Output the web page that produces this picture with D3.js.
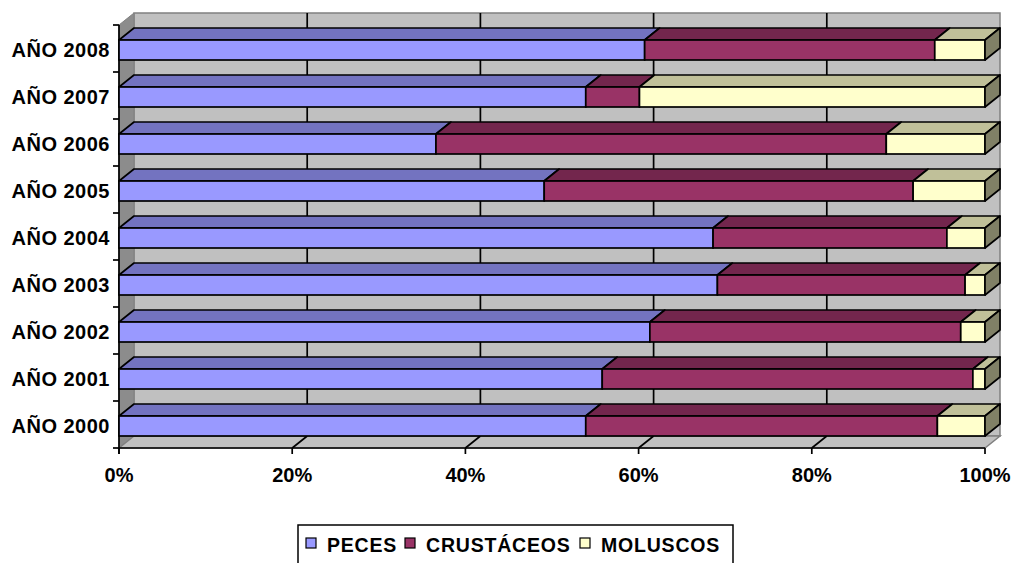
<!DOCTYPE html>
<html><head><meta charset="utf-8">
<script src="https://cdn.jsdelivr.net/npm/d3@7"></script>
<style>
body{margin:0;background:#fff;}
text{font-family:"Liberation Sans",Arial,sans-serif;font-weight:bold;fill:#000;}
</style></head>
<body><svg id="c" width="1015" height="563"></svg>
<script>
const categories = ["AÑO 2008","AÑO 2007","AÑO 2006","AÑO 2005","AÑO 2004","AÑO 2003","AÑO 2002","AÑO 2001","AÑO 2000"];
const peces      = [60.7, 53.9, 36.6, 49.1, 68.6, 69.1, 61.3, 55.8, 53.9];
const crustaceos = [33.5,  6.2, 52.0, 42.6, 27.0, 28.6, 35.9, 42.8, 40.6];
const moluscos   = [ 5.8, 39.9, 11.4,  8.3,  4.4,  2.3,  2.8,  1.4,  5.5];
const seriesNames = ["PECES","CRUSTÁCEOS","MOLUSCOS"];
const xTicks = [0,20,40,60,80,100];

const front = ["#9999ff","#993366","#ffffcc"];
const top_  = ["#7373c0","#73264d","#c0c099"];
const sideC = "#808066";

const svg = d3.select("#c");
const DX = 15, DY = 12;
const x = d3.scaleLinear().domain([0,100]).range([119,985]);
const y = d3.scaleBand().domain(categories).range([25,448]);
const y0 = 25, y1 = 448;

const rows = categories.map((c,i)=>({cat:c, PECES:peces[i], "CRUSTÁCEOS":crustaceos[i], MOLUSCOS:moluscos[i]}));
const stacked = d3.stack().keys(seriesNames)(rows);

const pts = a => a.map(p=>p.join(",")).join(" ");
// back wall
svg.append("polygon").attr("points",pts([[x(0)+DX,y0-DY],[x(100)+DX,y0-DY],[x(100)+DX,y1-DY],[x(0)+DX,y1-DY]]))
  .attr("fill","#c0c0c0").attr("stroke","#808080").attr("stroke-width",1.5);
// left wall
svg.append("polygon").attr("points",pts([[x(0),y0],[x(0)+DX,y0-DY],[x(0)+DX,y1-DY],[x(0),y1]]))
  .attr("fill","#8c8c8c").attr("stroke","#808080").attr("stroke-width",1);
// floor
svg.append("polygon").attr("points",pts([[x(0),y1],[x(100),y1],[x(100)+DX,y1-DY],[x(0)+DX,y1-DY]]))
  .attr("fill","#c0c0c0").attr("stroke","#808080").attr("stroke-width",1.5);
// gridlines
xTicks.filter(t=>t>0&&t<100).forEach(t=>{
  svg.append("line").attr("x1",x(t)+DX).attr("x2",x(t)+DX).attr("y1",y0-DY).attr("y2",y1-DY).attr("stroke","#000").attr("stroke-width",1.7);
  svg.append("line").attr("x1",x(t)).attr("x2",x(t)+DX).attr("y1",y1).attr("y2",y1-DY).attr("stroke","#000").attr("stroke-width",1.7);
});
// category ticks
const bounds = categories.map(c=>y(c)).concat([y1]);
bounds.forEach(b=>{
  svg.append("line").attr("x1",x(0)-6).attr("x2",x(0)).attr("y1",b).attr("y2",b).attr("stroke","#000").attr("stroke-width",1.7);
});
// axes lines
svg.append("line").attr("x1",x(0)).attr("x2",x(0)).attr("y1",y0).attr("y2",y1+6).attr("stroke","#000").attr("stroke-width",1.7);
svg.append("line").attr("x1",x(0)).attr("x2",x(100)).attr("y1",y1).attr("y2",y1).attr("stroke","#000").attr("stroke-width",1.7);
xTicks.forEach(t=>{
  svg.append("line").attr("x1",x(t)).attr("x2",x(t)).attr("y1",y1).attr("y2",y1+6).attr("stroke","#000").attr("stroke-width",1.7);
  svg.append("text").attr("x",x(t)).attr("y",482).attr("text-anchor","middle").attr("font-size",20).text(t+"%");
});
// category labels
categories.forEach(c=>{
  svg.append("text").attr("x",110).attr("y",y(c)+y.bandwidth()/2+8).attr("text-anchor","end")
    .attr("font-size",20).attr("letter-spacing",0.5).text(c);
});
// bars
const FO = 15, FH = 20;
categories.forEach((c,i)=>{
  const g = svg.append("g");
  const ft = y(c)+FO, fb = ft+FH;
  stacked.forEach((s,k)=>{
    const a = x(s[i][0]), b = x(s[i][1]);
    g.append("polygon").attr("points",pts([[a,ft],[b,ft],[b+DX,ft-DY],[a+DX,ft-DY]]))
      .attr("fill",top_[k]).attr("stroke","#000").attr("stroke-width",1.7).attr("stroke-linejoin","round");
  });
  stacked.forEach((s,k)=>{
    const a = x(s[i][0]), b = x(s[i][1]);
    g.append("rect").attr("x",a).attr("y",ft).attr("width",b-a).attr("height",FH)
      .attr("fill",front[k]).attr("stroke","#000").attr("stroke-width",1.7);
  });
  const e = x(100);
  g.append("polygon").attr("points",pts([[e,ft],[e+DX,ft-DY],[e+DX,fb-DY],[e,fb]]))
    .attr("fill",sideC).attr("stroke","#000").attr("stroke-width",1.7).attr("stroke-linejoin","round");
});
// legend
const lg = svg.append("g");
lg.append("rect").attr("x",298).attr("y",525).attr("width",435).attr("height",50).attr("fill","#fff").attr("stroke","#000").attr("stroke-width",1.5);
const lx = [306,405,580];
seriesNames.forEach((n,k)=>{
  lg.append("rect").attr("x",lx[k]).attr("y",538).attr("width",10).attr("height",10).attr("fill",front[k]).attr("stroke","#000").attr("stroke-width",1.2);
  lg.append("text").attr("x",lx[k]+21).attr("y",552).attr("font-size",19.5).attr("letter-spacing",0.8).text(n);
});
</script></body></html>
